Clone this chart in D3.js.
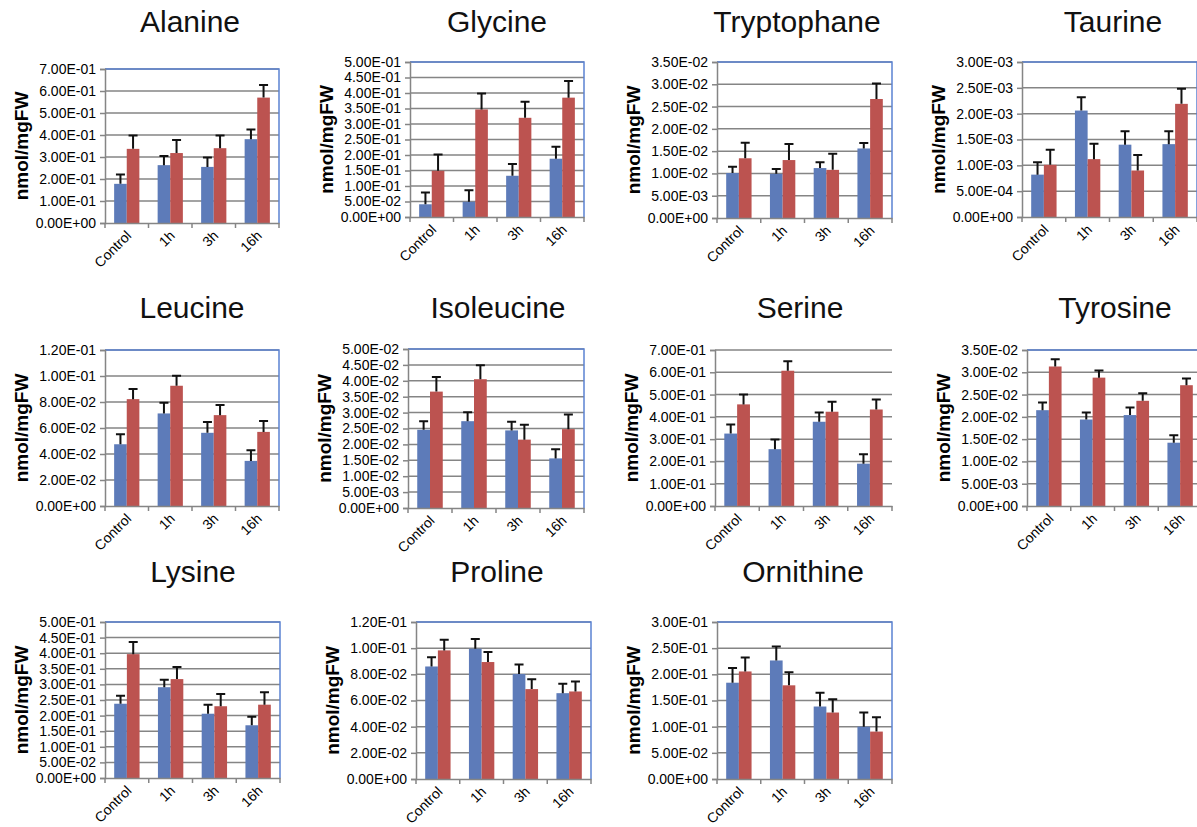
<!DOCTYPE html>
<html>
<head>
<meta charset="utf-8">
<script src="https://cdn.jsdelivr.net/npm/d3@7"></script>
<style>
  body { margin: 0; background: #fff; }
  text { font-family: 'Liberation Sans', Arial, sans-serif; fill: #000; }
  .title { font-size: 30px; fill: #111; }
  .ylabel { font-size: 19px; font-weight: bold; }
  .tick text { font-size: 14px; }
</style>
</head>
<body>
<script>
const categories = ['Control', '1h', '3h', '16h'];
const panelNames = ['Alanine', 'Glycine', 'Tryptophane', 'Taurine', 'Leucine', 'Isoleucine',
  'Serine', 'Tyrosine', 'Lysine', 'Proline', 'Ornithine'];

// axis maximum and tick step of each panel
const yMax = [0.7, 0.5, 0.035, 0.003, 0.12, 0.05, 0.7, 0.035, 0.5, 0.12, 0.3];
const yStep = [0.1, 0.05, 0.005, 0.0005, 0.02, 0.005, 0.1, 0.005, 0.05, 0.02, 0.05];

// blue series (mean, error) per panel
const blueMean = [
  [0.178, 0.263, 0.255, 0.381],
  [0.041, 0.049, 0.133, 0.188],
  [0.0101, 0.0099, 0.0112, 0.0156],
  [0.00082, 0.00206, 0.0014, 0.00141],
  [0.0475, 0.0712, 0.0563, 0.0347],
  [0.0246, 0.0273, 0.0244, 0.0156],
  [0.325, 0.255, 0.378, 0.19],
  [0.0215, 0.0194, 0.0204, 0.0142],
  [0.238, 0.291, 0.206, 0.169],
  [0.086, 0.0996, 0.0802, 0.0656],
  [0.184, 0.2265, 0.1385, 0.1]
];
const blueErr = [
  [0.042, 0.042, 0.043, 0.044],
  [0.038, 0.037, 0.038, 0.039],
  [0.0014, 0.0011, 0.0013, 0.0012],
  [0.00024, 0.00026, 0.00026, 0.00025],
  [0.0077, 0.0082, 0.0084, 0.0082],
  [0.0027, 0.0028, 0.0027, 0.0029],
  [0.041, 0.043, 0.042, 0.042],
  [0.0017, 0.0016, 0.0017, 0.0017],
  [0.026, 0.024, 0.029, 0.027],
  [0.007, 0.0074, 0.0074, 0.0072],
  [0.028, 0.0265, 0.0265, 0.027]
];
// red series (mean, error) per panel
const redMean = [
  [0.337, 0.318, 0.340, 0.570],
  [0.149, 0.347, 0.320, 0.385],
  [0.0134, 0.0130, 0.0108, 0.0267],
  [0.00101, 0.00112, 0.0009, 0.00219],
  [0.0822, 0.0925, 0.0699, 0.057],
  [0.0366, 0.0405, 0.0215, 0.0248],
  [0.456, 0.607, 0.423, 0.433],
  [0.0313, 0.0288, 0.0236, 0.0271],
  [0.397, 0.317, 0.23, 0.235],
  [0.0983, 0.0894, 0.0687, 0.0669],
  [0.2055, 0.179, 0.127, 0.0906]
];
const redErr = [
  [0.061, 0.059, 0.058, 0.057],
  [0.053, 0.051, 0.052, 0.054],
  [0.0035, 0.0036, 0.0036, 0.0035],
  [0.00029, 0.0003, 0.0003, 0.00029],
  [0.0078, 0.0077, 0.0077, 0.0083],
  [0.0046, 0.0044, 0.0047, 0.0046],
  [0.044, 0.043, 0.045, 0.045],
  [0.0016, 0.0016, 0.0017, 0.0015],
  [0.039, 0.039, 0.039, 0.04],
  [0.0081, 0.0076, 0.0076, 0.0076],
  [0.0265, 0.025, 0.0255, 0.0274]
];
const noFrame = ['Serine'];

// plot area boxes and title positions: [left, top, width, height, titleX, titleY]
const LAYOUT = [
  [105, 69, 174, 154, 190, 32], [410, 62, 174, 155, 497, 32],
  [717, 62, 175, 156, 797, 32], [1022, 62, 175, 155, 1113, 32],
  [105, 350, 174, 156, 192, 318], [408, 349, 176, 159, 498, 318],
  [715, 350, 177, 156, 800, 318], [1027, 350, 175, 156, 1115, 318],
  [105, 622, 175, 156, 193, 582], [416, 622, 175, 157, 497, 582],
  [717, 622, 175, 157, 803, 582]
];
const COLORS = { blue: '#5d7bb9', red: '#bc5350' };
const GRID = '#858585';

function sciFormat(d) {
  const [m, e] = d.toExponential(2).split('e');
  const n = Math.abs(+e);
  return m + 'E' + (e[0] === '-' ? '-' : '+') + (n < 10 ? '0' + n : n);
}

const svg = d3.select('body').append('svg').attr('width', 1197).attr('height', 827);

panelNames.forEach((name, p) => {
  const [left, top, w, h, tx, ty] = LAYOUT[p];

  svg.append('text').attr('class', 'title')
    .attr('x', tx).attr('y', ty)
    .style('text-anchor', 'middle')
    .text(name);

  const g = svg.append('g').attr('transform', 'translate(' + left + ',' + top + ')');

  const x = d3.scaleBand().domain(categories).range([0, w]).paddingInner(0.42).paddingOuter(0.21);
  const xs = d3.scaleBand().domain(['blue', 'red']).range([0, x.bandwidth()]);
  const y = d3.scaleLinear().domain([0, yMax[p]]).range([h, 0]);
  const ticks = d3.range(0, yMax[p] + yStep[p] / 2, yStep[p]);

  // gridlines
  g.selectAll('line.grid')
    .data(ticks.slice(1))
    .join('line')
    .attr('class', 'grid')
    .attr('x1', 0).attr('x2', w)
    .attr('y1', (d) => y(d)).attr('y2', (d) => y(d))
    .attr('stroke', GRID).attr('stroke-width', 1.5);

  // blue frame on top and right
  if (!noFrame.includes(name)) {
    g.append('path')
      .attr('d', 'M0,' + y(yMax[p]) + 'H' + w + 'V' + h)
      .attr('fill', 'none').attr('stroke', '#5b82d2').attr('stroke-width', 1.5);
  }

  const rows = categories.map((c, i) => [
    { c, s: 'blue', v: blueMean[p][i], e: blueErr[p][i] },
    { c, s: 'red', v: redMean[p][i], e: redErr[p][i] }
  ]).flat();

  g.selectAll('rect.bar')
    .data(rows)
    .join('rect')
    .attr('class', 'bar')
    .attr('x', (d) => x(d.c) + xs(d.s))
    .attr('width', xs.bandwidth())
    .attr('y', (d) => y(d.v))
    .attr('height', (d) => h - y(d.v))
    .attr('fill', (d) => COLORS[d.s]);

  // error bars (upper only)
  const cx = (d) => x(d.c) + xs(d.s) + xs.bandwidth() / 2;
  g.selectAll('path.err')
    .data(rows)
    .join('path')
    .attr('class', 'err')
    .attr('d', (d) => 'M' + cx(d) + ',' + y(d.v) + 'V' + y(d.v + d.e) +
      'M' + (cx(d) - 4.5) + ',' + y(d.v + d.e) + 'H' + (cx(d) + 4.5))
    .attr('fill', 'none').attr('stroke', '#111').attr('stroke-width', 2);

  // y axis
  const yAxis = g.append('g').attr('class', 'y axis')
    .call(d3.axisLeft(y).tickValues(ticks).tickFormat(sciFormat).tickSize(5).tickPadding(4));
  yAxis.select('.domain').attr('stroke', GRID).attr('stroke-width', 1.5);
  yAxis.selectAll('.tick line').attr('stroke', GRID).attr('stroke-width', 1.5);

  // x axis with ticks on the category boundaries
  const xAxis = g.append('g').attr('class', 'x axis')
    .attr('transform', 'translate(0,' + h + ')')
    .call(d3.axisBottom(x).tickSize(0).tickPadding(0));
  xAxis.select('.domain').attr('stroke', GRID).attr('stroke-width', 1.5);
  xAxis.selectAll('.tick text')
    .attr('transform', 'translate(2,10) rotate(-45)')
    .attr('dy', '0.35em')
    .style('text-anchor', 'end');
  xAxis.selectAll('line.sep')
    .data(d3.range(categories.length + 1))
    .join('line')
    .attr('class', 'sep')
    .attr('x1', (i) => i * x.step()).attr('x2', (i) => i * x.step())
    .attr('y1', 0).attr('y2', 5)
    .attr('stroke', GRID).attr('stroke-width', 1.5);

  // y label, left of the widest tick label
  let maxW = 0;
  yAxis.selectAll('.tick text').each(function () {
    maxW = Math.max(maxW, this.getComputedTextLength());
  });
  g.append('text').attr('class', 'ylabel')
    .attr('transform', 'translate(' + (-9 - maxW - 8) + ',' + h / 2 + ') rotate(-90)')
    .style('text-anchor', 'middle')
    .text('nmol/mgFW');
});
</script>
</body>
</html>
